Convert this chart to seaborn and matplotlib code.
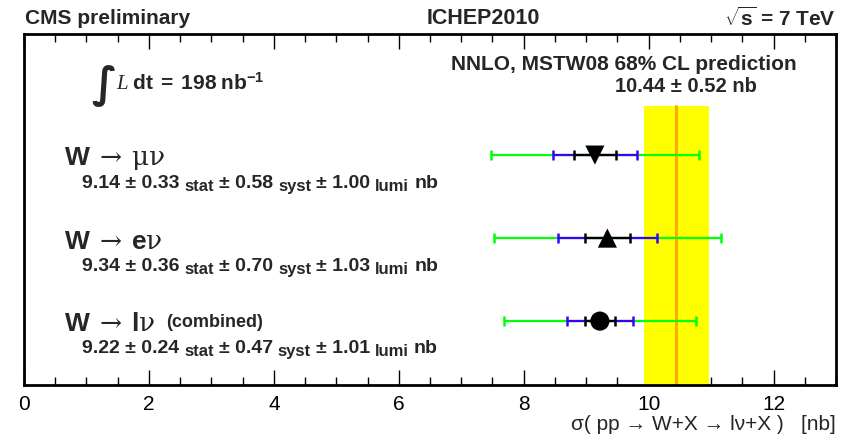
import numpy as np
import pandas as pd
import matplotlib
matplotlib.use("Agg")
import matplotlib.pyplot as plt
import seaborn as sns

# ---- data ----
channels = ["W → μν", "W → eν", "W → lν (combined)"]
central = [9.14, 9.34, 9.22]
stat = [0.33, 0.36, 0.24]
syst = [0.58, 0.70, 0.47]
lumi = [1.00, 1.03, 1.01]
markers_list = ["v", "^", "o"]
theory_value = 10.44
theory_err = 0.52
xticks = [0, 2, 4, 6, 8, 10, 12]

sns.set_style("ticks")
plt.rcParams["font.family"] = ["Liberation Sans", "DejaVu Sans"]
plt.rcParams["mathtext.fontset"] = "custom"
plt.rcParams["mathtext.rm"] = "DejaVu Serif"
plt.rcParams["mathtext.it"] = "Liberation Serif:italic"
plt.rcParams["mathtext.bf"] = "Liberation Sans:bold"
plt.rcParams["mathtext.sf"] = "Liberation Sans"

W, H = 851, 436
AX_L, AX_R, AX_T, AX_B = 24, 836, 34, 385
fig = plt.figure(figsize=(W / 100, H / 100), dpi=100)
ax = fig.add_axes([AX_L / W, 1 - AX_B / H, (AX_R - AX_L) / W, (AX_B - AX_T) / H])

rows = np.array([3, 2, 1], dtype=float)
c = np.array(central)
st = np.array(stat)
sy = np.array(syst)
lu = np.array(lumi)
e_stat = st
e_ss = np.sqrt(st ** 2 + sy ** 2)
e_tot = e_ss + lu

df = pd.DataFrame({"value": c, "row": rows, "channel": channels})

band_top = 0.796
ax.axvspan(theory_value - theory_err, theory_value + theory_err, ymin=0, ymax=band_top,
           color="#ffff00", lw=0, zorder=1)
ax.axvline(theory_value, ymin=0, ymax=band_top, color="#ffaa00", lw=2.2, zorder=2)

for err, col in [(e_tot, "#00ff00"), (e_ss, "#3a00ff"), (e_stat, "black")]:
    ax.errorbar(c, rows, xerr=err, fmt="none", ecolor=col, elinewidth=1.6,
                capsize=3.5, capthick=1.8, zorder=3)

sns.scatterplot(data=df, x="value", y="row", style="channel",
                markers=dict(zip(channels, markers_list)), color="black",
                s=190, edgecolor="black", linewidth=0, legend=False, zorder=5, ax=ax)

ax.set_xlim(0, 13)
ax.set_ylim(0.230, 4.459)
ax.set_xticks(xticks)
ax.set_xticklabels([str(t) for t in xticks], fontsize=15)
ax.set_xticks(np.arange(0, 13.01, 0.5), minor=True)
ax.set_yticks([])
ax.tick_params(axis="x", which="major", direction="in", top=True, length=11, width=1,
               pad=7, color="black", labelcolor="black")
ax.tick_params(axis="x", which="minor", direction="in", top=True, length=6, width=1, color="black")
for s in ax.spines.values():
    s.set_linewidth(2)
    s.set_edgecolor("black")
    s.set_visible(True)
ax.set_xlabel("")
ax.set_ylabel("")

def ftext(x, y, s, **kw):
    return fig.text(x / W, 1 - y / H, s, **kw)

renderer = fig.canvas.get_renderer()

def chain(x, y, pieces):
    """Lay out text pieces left to right; each piece = (text, size, dy, gap_after)."""
    for txt, size, dy, gap in pieces:
        t = ftext(x, y + dy, txt, fontsize=size, fontweight="bold", va="baseline", ha="left")
        x += t.get_window_extent(renderer).width + gap

# header
ftext(25, 18, "CMS preliminary", fontsize=15, fontweight="bold", va="center", ha="left")
ftext(483, 18, "ICHEP2010", fontsize=15.5, fontweight="bold", va="center", ha="center")
ftext(836, 18, r"$\sqrt{\mathbf{s}}$" + " = 7 TeV", fontsize=15, fontweight="bold", va="center", ha="right")

# luminosity
ftext(91, 86, "∫", fontsize=30, fontweight="bold", va="center", ha="left", family=["DejaVu Sans"])
ftext(116, 83, r"$\mathit{L}\ \mathbf{dt\ =\ 198\ nb}^{\mathbf{-1}}$", fontsize=15, va="center", ha="left")

# theory text
ftext(624, 64, "NNLO, MSTW08 68% CL prediction", fontsize=15, fontweight="bold", va="center", ha="center")
ftext(686, 87, f"{theory_value:.2f} ± {theory_err:.2f} nb", fontsize=14.5, fontweight="bold",
      va="center", ha="center")

# channel labels
titles = [r"$\mathbf{W}\ \rightarrow\ \mathrm{\mu\nu}$",
          r"$\mathbf{W}\ \rightarrow\ \mathbf{e}\mathrm{\nu}$",
          r"$\mathbf{W}\ \rightarrow\ \mathbf{l}\mathrm{\nu}$"]
ys = [159, 241.5, 324]
MAIN, SUB, DROP = 14, 12, 3
for i in range(3):
    ftext(64, ys[i], titles[i], fontsize=19, va="center", ha="left")
    base = ys[i] + 29
    chain(82, base, [
        (f"{central[i]:.2f} ± {stat[i]:.2f}", MAIN, 0, 5),
        ("stat", SUB, DROP, 5),
        (f"± {syst[i]:.2f}", MAIN, 0, 5),
        ("syst", SUB, DROP, 5),
        (f"± {lumi[i]:.2f}", MAIN, 0, 5),
        ("lumi", SUB, DROP, 5),
        ("nb", MAIN, 0, 0),
    ])
ftext(166, 327, "(combined)", fontsize=13, fontweight="bold", va="baseline", ha="left")

# x label
ftext(836, 424, "σ( pp → W+X → lν+X )   [nb]", fontsize=15, va="center", ha="right")

fig.savefig("out.png", dpi=100)
